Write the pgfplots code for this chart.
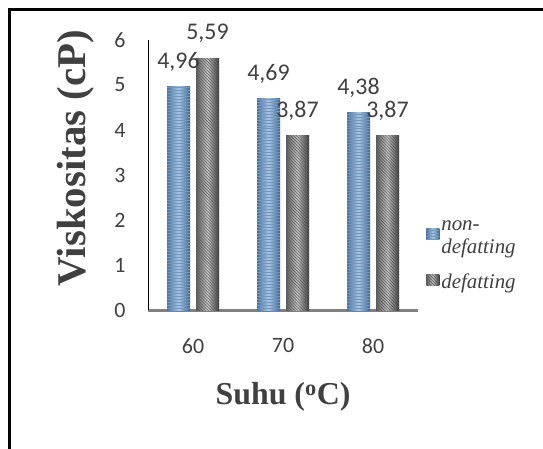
\documentclass[border=0pt]{standalone}
\usepackage{pgfplots}
\pgfplotsset{compat=1.18}
\usepackage{fontspec}
\setmainfont{Liberation Serif}
\newfontfamily\carlito{Carlito}
\usetikzlibrary{patterns}
\definecolor{txt}{HTML}{404040}
\definecolor{b1}{HTML}{4A72A0}
\definecolor{b2}{HTML}{A6C6E6}
\definecolor{b3}{HTML}{3D6490}
\definecolor{g1}{HTML}{5E5E5E}
\definecolor{g2}{HTML}{C4C4C4}
\definecolor{g3}{HTML}{383838}
\tikzset{
  bluebar/.style={draw=none, left color=b1, right color=b3, middle color=b2},
  greybar/.style={draw=none, left color=g1, right color=g3, middle color=g2},
  bluepat/.style={draw=none, pattern=horizontal lines, pattern color=b1!75!white},
  greypat/.style={draw=none, pattern=north west lines, pattern color=g3!85!white}
}
\pgfplotsset{
  bL/.style={ybar, bar width=23bp, bar shift=-14.5bp, forget plot},
  bR/.style={ybar, bar width=23bp, bar shift=14.5bp, forget plot},
  lbl/.style={nodes near coords={\pgfmathprintnumber[fixed,fixed zerofill,precision=2,use comma]{\pgfplotspointmeta}},
    nodes near coords style={font=\carlito\fontsize{24}{26}\selectfont, text=txt, yshift=12bp, xshift=#1}},
}
\begin{document}
\begin{tikzpicture}
\useasboundingbox (0bp,0bp) rectangle (543bp,-449bp);
\draw[line width=3bp] (9bp,-449bp) -- (9bp,-9.5bp) -- (543bp,-9.5bp);
\begin{axis}[
  at={(148bp,-310bp)}, anchor=south west,
  scale only axis, width=270bp, height=270bp,
  xmin=-0.5, xmax=2.5, ymin=0, ymax=6,
  axis lines*=left,
  x axis line style={draw=gray, line width=3bp},
  y axis line style={draw=black, line width=0.8bp},
  ytick={0,1,2,3,4,5,6}, xtick={0,1,2}, xticklabels={60,70,80},
  major tick length=0pt,
  /pgf/number format/assume math mode=true,
  tick label style={font=\carlito\fontsize{22}{26}\selectfont, text=txt},
  yticklabel style={xshift=-19bp},
  xticklabel style={yshift=-25bp},
  clip=false,
  xlabel={Suhu (\textsuperscript{o}C)},
  xlabel style={at={(axis description cs:0.5,-0.32)}, anchor=center, font=\bfseries\fontsize{32}{36}\selectfont, text=txt},
  ylabel={Viskositas (cP)},
  ylabel style={at={(axis description cs:-0.267,0.563)}, anchor=center, font=\bfseries\fontsize{41}{44}\selectfont, text=txt},
  legend style={at={(rel axis cs:1.03,0.338)}, anchor=north west, draw=none, fill=none,
    font=\itshape\fontsize{21}{23}\selectfont, text=txt, cells={align=left, anchor=west}, row sep=15bp, inner sep=0pt},
]
\addlegendimage{legend image code/.code={\path[bluebar] (0bp,-1bp) rectangle (13bp,10bp); \path[bluepat] (0bp,-1bp) rectangle (13bp,10bp);}}
\addlegendentry{non-\\defatting}
\addlegendimage{legend image code/.code={\path[greybar] (0bp,-3bp) rectangle (13bp,8bp); \path[greypat] (0bp,-3bp) rectangle (13bp,8bp);}}
\addlegendentry{defatting}
% non-defatting
\addplot[bL, bluebar] coordinates {(0,4.96)};
\addplot[bL, bluepat, lbl=-14.5bp] coordinates {(0,4.96)};
\addplot[bL, bluebar] coordinates {(1,4.69)};
\addplot[bL, bluepat, lbl=-14.5bp] coordinates {(1,4.69)};
\addplot[bL, bluebar] coordinates {(2,4.38)};
\addplot[bL, bluepat, lbl=-14.5bp] coordinates {(2,4.38)};
% defatting
\addplot[bR, greybar] coordinates {(0,5.59)};
\addplot[bR, greypat, lbl=14.5bp] coordinates {(0,5.59)};
\addplot[bR, greybar] coordinates {(1,3.87)};
\addplot[bR, greypat, lbl=14.5bp] coordinates {(1,3.87)};
\addplot[bR, greybar] coordinates {(2,3.87)};
\addplot[bR, greypat, lbl=14.5bp] coordinates {(2,3.87)};
\end{axis}
\end{tikzpicture}
\end{document}
